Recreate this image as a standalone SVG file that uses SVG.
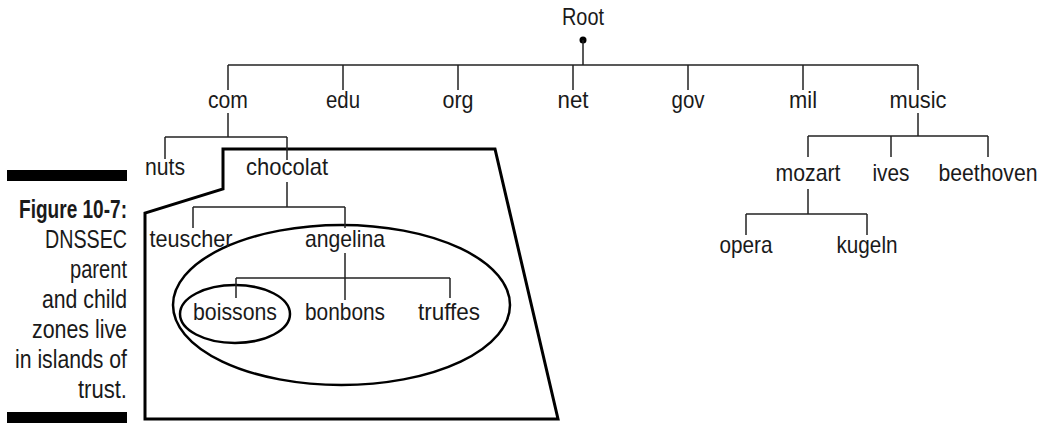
<svg xmlns="http://www.w3.org/2000/svg" width="1044" height="423" viewBox="0 0 1044 423">
<style>
text{font-family:"Liberation Sans",Arial,sans-serif;fill:#1a1a1a}
.lbl{font-size:24px;text-anchor:middle}
.cap{font-size:25px;text-anchor:end}
.capb{font-weight:bold}
.tree line{stroke:#222;stroke-width:1.5}
.zone{fill:none;stroke:#000;stroke-width:3}
.oval{fill:none;stroke:#000;stroke-width:2.5}
</style>
<rect x="0" y="0" width="1044" height="423" fill="#fff"/>
<g id="caption">
<rect x="7" y="170" width="120" height="11" fill="#000"/>
<rect x="7" y="412" width="120" height="11" fill="#000"/>
<text class="cap capb" x="127" y="218" textLength="108" lengthAdjust="spacingAndGlyphs">Figure 10-7:</text>
<text class="cap" x="127" y="248" textLength="82" lengthAdjust="spacingAndGlyphs">DNSSEC</text>
<text class="cap" x="127" y="278" textLength="57" lengthAdjust="spacingAndGlyphs">parent</text>
<text class="cap" x="127" y="308" textLength="85" lengthAdjust="spacingAndGlyphs">and child</text>
<text class="cap" x="127" y="338" textLength="95" lengthAdjust="spacingAndGlyphs">zones live</text>
<text class="cap" x="127" y="368" textLength="112" lengthAdjust="spacingAndGlyphs">in islands of</text>
<text class="cap" x="127" y="398" textLength="49" lengthAdjust="spacingAndGlyphs">trust.</text>
</g>
<g id="zones">
<polygon id="zone-chocolat" class="zone" points="223,149 495,149 558,419 145,419 145,213 223,189"/>
<ellipse id="zone-angelina" class="oval" cx="341.5" cy="305" rx="168.5" ry="80"/>
<ellipse id="zone-boissons" class="oval" cx="235" cy="314" rx="55" ry="29"/>
</g>
<g id="connectors" class="tree">
<circle cx="583" cy="40" r="3.5" fill="#000"/>
<line x1="583" y1="40" x2="583" y2="65"/>
<line x1="228" y1="65" x2="918" y2="65"/>
<line x1="228" y1="65" x2="228" y2="90"/>
<line x1="343" y1="65" x2="343" y2="90"/>
<line x1="458" y1="65" x2="458" y2="90"/>
<line x1="573" y1="65" x2="573" y2="90"/>
<line x1="688" y1="65" x2="688" y2="90"/>
<line x1="803" y1="65" x2="803" y2="90"/>
<line x1="918" y1="65" x2="918" y2="90"/>
<line x1="228" y1="113" x2="228" y2="137"/>
<line x1="165" y1="137" x2="287" y2="137"/>
<line x1="165" y1="137" x2="165" y2="159"/>
<line x1="287" y1="137" x2="287" y2="160"/>
<line x1="287" y1="182" x2="287" y2="207"/>
<line x1="193" y1="207" x2="345" y2="207"/>
<line x1="193" y1="207" x2="193" y2="228"/>
<line x1="345" y1="207" x2="345" y2="228"/>
<line x1="345" y1="253" x2="345" y2="300"/>
<line x1="236" y1="278" x2="450" y2="278"/>
<line x1="236" y1="278" x2="236" y2="298"/>
<line x1="450" y1="278" x2="450" y2="298"/>
<line x1="918" y1="113" x2="918" y2="136"/>
<line x1="808" y1="136" x2="988" y2="136"/>
<line x1="808" y1="136" x2="808" y2="157"/>
<line x1="891" y1="136" x2="891" y2="157"/>
<line x1="988" y1="136" x2="988" y2="157"/>
<line x1="808" y1="189" x2="808" y2="214"/>
<line x1="746" y1="214" x2="867" y2="214"/>
<line x1="746" y1="214" x2="746" y2="235"/>
<line x1="867" y1="214" x2="867" y2="235"/>
</g>
<g id="n-root"><text class="lbl" x="583" y="25" textLength="42" lengthAdjust="spacingAndGlyphs">Root</text></g>
<g id="n-com"><text class="lbl" x="228" y="108" textLength="40" lengthAdjust="spacingAndGlyphs">com</text></g>
<g id="n-edu"><text class="lbl" x="343" y="108" textLength="34" lengthAdjust="spacingAndGlyphs">edu</text></g>
<g id="n-org"><text class="lbl" x="458" y="108" textLength="31" lengthAdjust="spacingAndGlyphs">org</text></g>
<g id="n-net"><text class="lbl" x="573" y="108" textLength="31" lengthAdjust="spacingAndGlyphs">net</text></g>
<g id="n-gov"><text class="lbl" x="688" y="108" textLength="33" lengthAdjust="spacingAndGlyphs">gov</text></g>
<g id="n-mil"><text class="lbl" x="803" y="108" textLength="28" lengthAdjust="spacingAndGlyphs">mil</text></g>
<g id="n-music"><text class="lbl" x="918" y="108" textLength="57" lengthAdjust="spacingAndGlyphs">music</text></g>
<g id="n-nuts"><text class="lbl" x="165" y="175" textLength="40" lengthAdjust="spacingAndGlyphs">nuts</text></g>
<g id="n-chocolat"><text class="lbl" x="287" y="175" textLength="82" lengthAdjust="spacingAndGlyphs">chocolat</text></g>
<g id="n-teuscher"><text class="lbl" x="191" y="247" textLength="83" lengthAdjust="spacingAndGlyphs">teuscher</text></g>
<g id="n-angelina"><text class="lbl" x="345" y="247" textLength="80" lengthAdjust="spacingAndGlyphs">angelina</text></g>
<g id="n-boissons"><text class="lbl" x="235" y="320" textLength="84" lengthAdjust="spacingAndGlyphs">boissons</text></g>
<g id="n-bonbons"><text class="lbl" x="345" y="320" textLength="80" lengthAdjust="spacingAndGlyphs">bonbons</text></g>
<g id="n-truffes"><text class="lbl" x="449" y="320" textLength="62" lengthAdjust="spacingAndGlyphs">truffes</text></g>
<g id="n-mozart"><text class="lbl" x="808" y="181" textLength="65" lengthAdjust="spacingAndGlyphs">mozart</text></g>
<g id="n-ives"><text class="lbl" x="891" y="181" textLength="37" lengthAdjust="spacingAndGlyphs">ives</text></g>
<g id="n-beethoven"><text class="lbl" x="988" y="181" textLength="99" lengthAdjust="spacingAndGlyphs">beethoven</text></g>
<g id="n-opera"><text class="lbl" x="746" y="253" textLength="53" lengthAdjust="spacingAndGlyphs">opera</text></g>
<g id="n-kugeln"><text class="lbl" x="867" y="253" textLength="61" lengthAdjust="spacingAndGlyphs">kugeln</text></g>
</svg>
